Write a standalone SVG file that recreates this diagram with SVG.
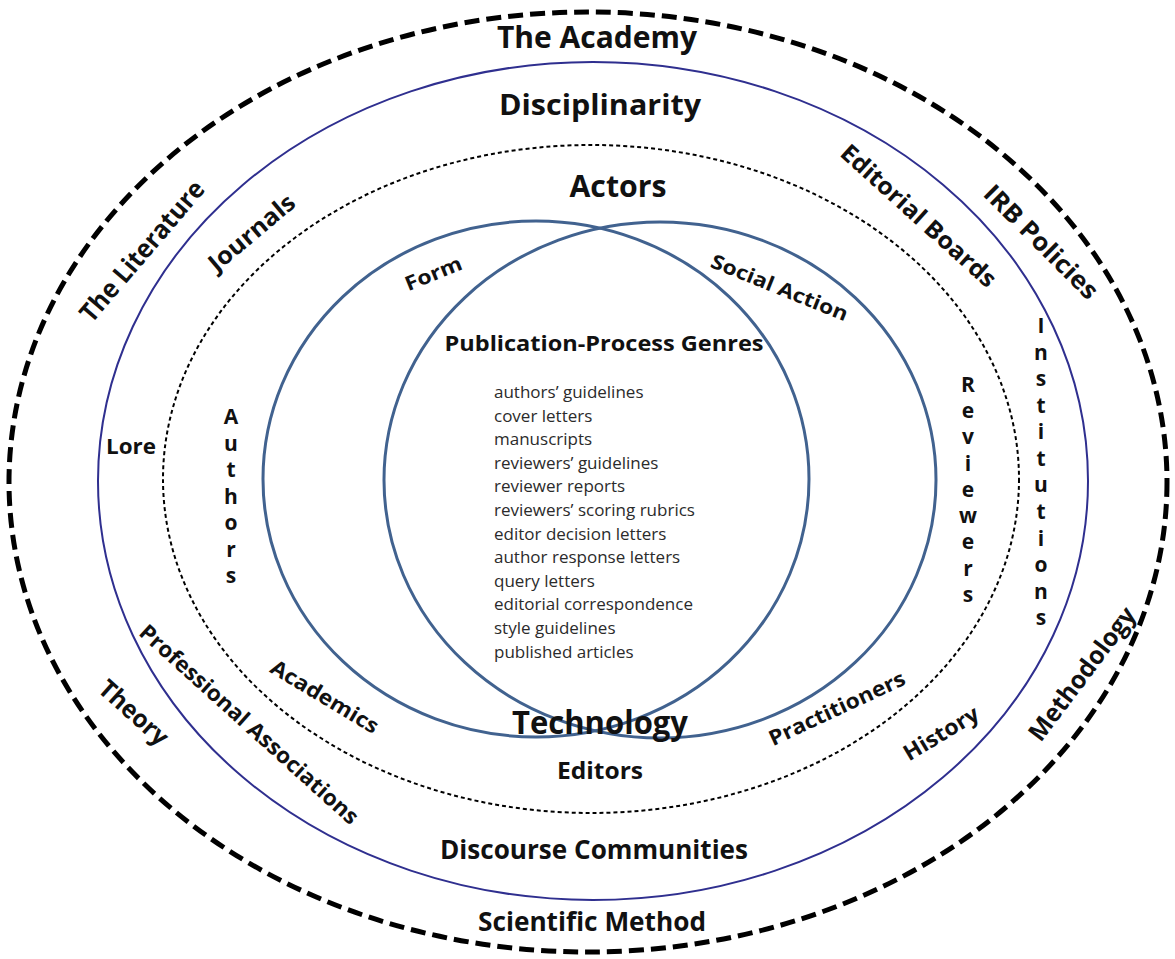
<svg xmlns="http://www.w3.org/2000/svg" width="1175" height="959" viewBox="0 0 1175 959">
  <style>
    .outer { fill: none; stroke: #000; stroke-width: 5; stroke-dasharray: 15 7; }
    .ring { fill: none; stroke: #2f2f8f; stroke-width: 2; }
    .dots { fill: none; stroke: #000; stroke-width: 2; stroke-dasharray: 4 3; }
    .venn { fill: none; stroke: #41628f; stroke-width: 3; }
    .hd { font-family: "Open Sans", "Liberation Sans", sans-serif; font-weight: 700; fill: #111; text-anchor: middle; }
    .lb { font-family: "Open Sans", "Liberation Sans", sans-serif; font-weight: 700; fill: #111; text-anchor: middle; }
    .vt { font-family: "Open Sans", "Liberation Sans", sans-serif; font-weight: 700; font-size: 21px; fill: #111; text-anchor: middle; }
    .li { font-family: "Open Sans", "Liberation Sans", sans-serif; font-size: 17px; fill: #2b2b2b; }
  </style>

  <rect width="1175" height="959" fill="#fff"/>

  <!-- concentric rings and the two overlapping circles -->
  <g id="rings">
    <ellipse class="outer" cx="588" cy="482" rx="579" ry="470"/>
    <ellipse class="ring" cx="593" cy="481" rx="495" ry="419"/>
    <ellipse class="dots" cx="591" cy="479" rx="428" ry="334"/>
    <ellipse class="venn" cx="536" cy="479" rx="273" ry="258"/>
    <ellipse class="venn" cx="660" cy="480" rx="276" ry="258"/>
  </g>

  <!-- outer ring labels -->
  <g id="the-academy"><text class="hd" x="597" y="48" font-size="30" textLength="200" lengthAdjust="spacingAndGlyphs">The Academy</text></g>
  <g id="the-literature"><text class="lb" font-size="26" transform="translate(149,257) rotate(-49.5)" textLength="176" lengthAdjust="spacingAndGlyphs">The Literature</text></g>
  <g id="irb-policies"><text class="lb" font-size="25" transform="translate(1035,248) rotate(45)" textLength="150" lengthAdjust="spacingAndGlyphs">IRB Policies</text></g>
  <g id="theory"><text class="lb" font-size="25" transform="translate(128,719) rotate(42)" textLength="84" lengthAdjust="spacingAndGlyphs">Theory</text></g>
  <g id="methodology"><text class="lb" font-size="25" transform="translate(1089,679) rotate(-53)" textLength="160" lengthAdjust="spacingAndGlyphs">Methodology</text></g>
  <g id="scientific-method"><text class="hd" x="592" y="931" font-size="27" textLength="228" lengthAdjust="spacingAndGlyphs">Scientific Method</text></g>

  <!-- middle ring labels -->
  <g id="disciplinarity"><text class="hd" x="600" y="115" font-size="29" textLength="202" lengthAdjust="spacingAndGlyphs">Disciplinarity</text></g>
  <g id="journals"><text class="lb" font-size="24" transform="translate(257,239) rotate(-40)" textLength="105" lengthAdjust="spacingAndGlyphs">Journals</text></g>
  <g id="editorial-boards"><text class="lb" font-size="24" transform="translate(913,222) rotate(42)" textLength="200" lengthAdjust="spacingAndGlyphs">Editorial Boards</text></g>
  <g id="lore"><text class="lb" x="131" y="454" font-size="21" textLength="50" lengthAdjust="spacingAndGlyphs">Lore</text></g>
  <g id="institutions">
    <text class="vt">
      <tspan x="1041" y="333">I</tspan><tspan x="1041" y="360">n</tspan><tspan x="1041" y="386">s</tspan><tspan x="1041" y="413">t</tspan><tspan x="1041" y="439">i</tspan><tspan x="1041" y="466">t</tspan><tspan x="1041" y="492">u</tspan><tspan x="1041" y="519">t</tspan><tspan x="1041" y="546">i</tspan><tspan x="1041" y="572">o</tspan><tspan x="1041" y="599">n</tspan><tspan x="1041" y="625">s</tspan>
    </text>
  </g>
  <g id="professional-associations"><text class="lb" font-size="22" transform="translate(244,730) rotate(42)" textLength="286" lengthAdjust="spacingAndGlyphs">Professional Associations</text></g>
  <g id="history"><text class="lb" font-size="22" transform="translate(945,740) rotate(-31)" textLength="84" lengthAdjust="spacingAndGlyphs">History</text></g>
  <g id="discourse-communities"><text class="hd" x="594" y="859" font-size="27" textLength="308" lengthAdjust="spacingAndGlyphs">Discourse Communities</text></g>

  <!-- inner ring labels -->
  <g id="actors"><text class="hd" x="618" y="197" font-size="30" textLength="97" lengthAdjust="spacingAndGlyphs">Actors</text></g>
  <g id="authors">
    <text class="vt">
      <tspan x="231" y="424">A</tspan><tspan x="231" y="450.5">u</tspan><tspan x="231" y="477">t</tspan><tspan x="231" y="503.5">h</tspan><tspan x="231" y="530">o</tspan><tspan x="231" y="556.5">r</tspan><tspan x="231" y="583">s</tspan>
    </text>
  </g>
  <g id="reviewers">
    <text class="vt">
      <tspan x="968" y="392">R</tspan><tspan x="968" y="418">e</tspan><tspan x="968" y="444">v</tspan><tspan x="968" y="471">i</tspan><tspan x="968" y="497">e</tspan><tspan x="968" y="523">w</tspan><tspan x="968" y="549">e</tspan><tspan x="968" y="576">r</tspan><tspan x="968" y="602">s</tspan>
    </text>
  </g>
  <g id="academics"><text class="lb" font-size="21" transform="translate(321,703) rotate(31)" textLength="122" lengthAdjust="spacingAndGlyphs">Academics</text></g>
  <g id="practitioners"><text class="lb" font-size="21" transform="translate(840,715) rotate(-25)" textLength="148" lengthAdjust="spacingAndGlyphs">Practitioners</text></g>
  <g id="editors"><text class="hd" x="600" y="779" font-size="24" textLength="86" lengthAdjust="spacingAndGlyphs">Editors</text></g>

  <!-- labels on the overlapping circles -->
  <g id="form"><text class="lb" font-size="20" transform="translate(436,280) rotate(-22)" textLength="60" lengthAdjust="spacingAndGlyphs">Form</text></g>
  <g id="social-action"><text class="lb" font-size="20" transform="translate(777,294) rotate(22)" textLength="146" lengthAdjust="spacingAndGlyphs">Social Action</text></g>
  <g id="technology"><text class="hd" x="600" y="734" font-size="32" textLength="176" lengthAdjust="spacingAndGlyphs">Technology</text></g>

  <!-- genre list -->
  <g id="publication-process-genres">
    <text class="hd" x="604" y="351" font-size="22" textLength="319" lengthAdjust="spacingAndGlyphs">Publication-Process Genres</text>
    <text class="li">
      <tspan x="494" y="398">authors’ guidelines</tspan>
      <tspan x="494" y="421.6">cover letters</tspan>
      <tspan x="494" y="445.2">manuscripts</tspan>
      <tspan x="494" y="468.8">reviewers’ guidelines</tspan>
      <tspan x="494" y="492.4">reviewer reports</tspan>
      <tspan x="494" y="516">reviewers’ scoring rubrics</tspan>
      <tspan x="494" y="539.6">editor decision letters</tspan>
      <tspan x="494" y="563.2">author response letters</tspan>
      <tspan x="494" y="586.8">query letters</tspan>
      <tspan x="494" y="610.4">editorial correspondence</tspan>
      <tspan x="494" y="634">style guidelines</tspan>
      <tspan x="494" y="657.6">published articles</tspan>
    </text>
  </g>
</svg>
